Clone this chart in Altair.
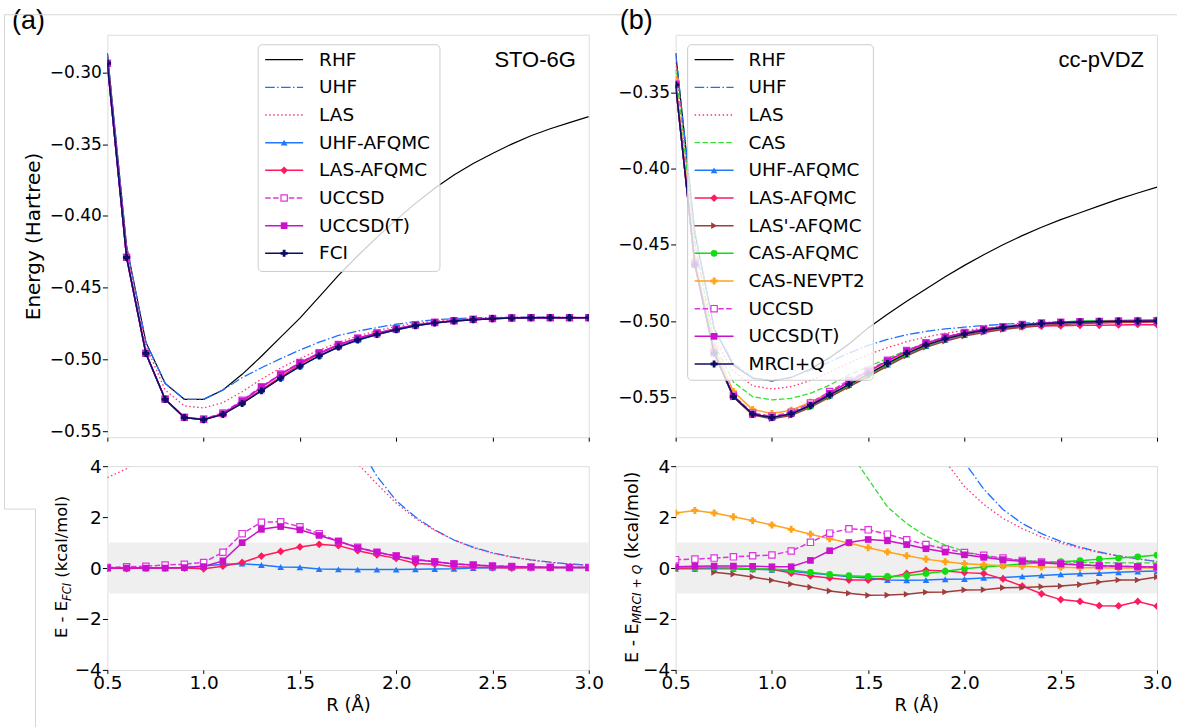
import altair as alt
import pandas as pd

R = [0.5, 0.6, 0.7, 0.8, 0.9, 1.0, 1.1, 1.2, 1.3, 1.4, 1.5, 1.6, 1.7,
     1.8, 1.9, 2.0, 2.1, 2.2, 2.3, 2.4, 2.5, 2.6, 2.7, 2.8, 2.9, 3.0]
X_TICKS = [0.5, 1.0, 1.5, 2.0, 2.5, 3.0]

# ---------------- (a) STO-6G : total energies (Hartree)
a_rhf = [-0.2866, -0.4213, -0.4880, -0.5167, -0.5278, -0.5278, -0.5213, -0.5104, -0.4978, -0.4845,
         -0.4712, -0.4565, -0.4415, -0.4278, -0.4150, -0.4028, -0.3913, -0.3808, -0.3715, -0.3635,
         -0.3565, -0.3500, -0.3442, -0.3393, -0.3350, -0.3309]
a_uhf = [-0.2866, -0.4213, -0.4880, -0.5167, -0.5278, -0.5278, -0.5213, -0.5127, -0.5058, -0.4995,
         -0.4935, -0.4880, -0.4833, -0.4803, -0.4778, -0.4755, -0.4737, -0.4724, -0.4716, -0.4711,
         -0.4708, -0.4706, -0.4706, -0.4706, -0.4707, -0.4707]
a_las = [-0.2880, -0.4228, -0.4903, -0.5213, -0.5324, -0.5338, -0.5301, -0.5225, -0.5137, -0.5060,
         -0.4993, -0.4935, -0.4883, -0.4838, -0.4800, -0.4770, -0.4748, -0.4733, -0.4723, -0.4716,
         -0.4711, -0.4708, -0.4707, -0.4706, -0.4706, -0.4707]
a_uhf_afqmc = [-0.2937, -0.4290, -0.4958, -0.5278, -0.5405, -0.5419, -0.5381, -0.5304, -0.5217, -0.5130,
               -0.5048, -0.4976, -0.4914, -0.4866, -0.4827, -0.4795, -0.4766, -0.4747, -0.4733, -0.4723,
               -0.4716, -0.4712, -0.4710, -0.4709, -0.4709, -0.4709]
a_las_afqmc = [-0.2937, -0.4290, -0.4958, -0.5278, -0.5405, -0.5420, -0.5382, -0.5303, -0.5212, -0.5121,
               -0.5035, -0.4961, -0.4900, -0.4854, -0.4818, -0.4788, -0.4762, -0.4744, -0.4732, -0.4723,
               -0.4716, -0.4712, -0.4710, -0.4709, -0.4709, -0.4709]
a_uccsd = [-0.2937, -0.4289, -0.4957, -0.5276, -0.5403, -0.5416, -0.5373, -0.5285, -0.5190, -0.5102,
           -0.5022, -0.4954, -0.4897, -0.4852, -0.4816, -0.4786, -0.4759, -0.4742, -0.4730, -0.4721,
           -0.4715, -0.4711, -0.4709, -0.4709, -0.4709, -0.4709]
a_uccsd_t = [-0.2937, -0.4290, -0.4958, -0.5278, -0.5405, -0.5419, -0.5379, -0.5291, -0.5195, -0.5105,
             -0.5024, -0.4956, -0.4897, -0.4852, -0.4816, -0.4787, -0.4760, -0.4742, -0.4730, -0.4721,
             -0.4715, -0.4711, -0.4709, -0.4709, -0.4709, -0.4709]
a_fci = [-0.2937, -0.4290, -0.4958, -0.5278, -0.5405, -0.5420, -0.5383, -0.5307, -0.5219, -0.5131,
         -0.5048, -0.4976, -0.4914, -0.4865, -0.4826, -0.4794, -0.4765, -0.4746, -0.4733, -0.4723,
         -0.4716, -0.4712, -0.4710, -0.4709, -0.4709, -0.4709]

# ---------------- (a) errors vs FCI (kcal/mol)
da_uhf = [4.4, 4.8, 4.9, 7.0, 8.3, 8.9, 10.4, 11.3, 10.1, 8.5, 7.1, 6.1, 5.5, 4.9, 3.6, 2.65,
          2.0, 1.5, 1.1, 0.82, 0.6, 0.44, 0.32, 0.23, 0.16, 0.11]
da_las = [3.55, 3.9, 5.5, 7.0, 7.8, 7.7, 7.8, 7.5, 7.0, 6.5, 5.9, 5.3, 4.7, 4.1, 3.3, 2.55,
          1.95, 1.48, 1.1, 0.8, 0.58, 0.43, 0.31, 0.22, 0.16, 0.12]
da_uhf_afqmc = [0.0, 0.0, 0.0, 0.0, 0.02, 0.08, 0.15, 0.17, 0.12, 0.04, 0.03, -0.04, -0.05,
                -0.06, -0.06, -0.06, -0.05, -0.04, -0.03, 0.0, 0.01, 0.02, 0.02, 0.02, 0.02, 0.02]
da_las_afqmc = [0.0, -0.02, 0.0, 0.0, 0.0, -0.03, 0.07, 0.22, 0.47, 0.65, 0.83, 0.93, 0.88,
                0.68, 0.52, 0.38, 0.18, 0.15, 0.05, 0.03, 0.02, 0.0, 0.01, 0.01, 0.02, 0.02]
da_uccsd = [0.02, 0.05, 0.07, 0.12, 0.15, 0.22, 0.62, 1.35, 1.8, 1.82, 1.62, 1.35, 1.05,
            0.82, 0.62, 0.48, 0.35, 0.25, 0.17, 0.12, 0.08, 0.06, 0.04, 0.03, 0.02, 0.02]
da_uccsd_t = [0.0, 0.0, 0.0, 0.0, 0.02, 0.06, 0.28, 1.0, 1.52, 1.63, 1.5, 1.28, 1.05,
              0.8, 0.62, 0.46, 0.33, 0.25, 0.16, 0.12, 0.08, 0.06, 0.04, 0.03, 0.02, 0.02]

# ---------------- (b) cc-pVDZ : total energies (Hartree)
b_rhf = [-0.3242, -0.4420, -0.5050, -0.5290, -0.5375, -0.5393, -0.5370, -0.5315, -0.5240, -0.5150,
         -0.5045, -0.4955, -0.4870, -0.4790, -0.4710, -0.4635, -0.4565, -0.4500, -0.4440, -0.4385,
         -0.4335, -0.4290, -0.4245, -0.4200, -0.4160, -0.4122]
b_uhf = [-0.3242, -0.4420, -0.5050, -0.5278, -0.5370, -0.5393, -0.5368, -0.5322, -0.5268, -0.5210,
         -0.5160, -0.5120, -0.5090, -0.5068, -0.5052, -0.5040, -0.5030, -0.5021, -0.5014, -0.5009,
         -0.5005, -0.5002, -0.5000, -0.4999, -0.4998, -0.4997]
b_las = [-0.3300, -0.4500, -0.5120, -0.5330, -0.5425, -0.5446, -0.5430, -0.5390, -0.5335, -0.5275,
         -0.5220, -0.5175, -0.5135, -0.5105, -0.5080, -0.5062, -0.5047, -0.5035, -0.5025, -0.5017,
         -0.5011, -0.5006, -0.5003, -0.5001, -0.5000, -0.4999]
b_cas = [-0.3350, -0.4480, -0.5150, -0.5400, -0.5496, -0.5517, -0.5507, -0.5474, -0.5420, -0.5354,
         -0.5300, -0.5245, -0.5191, -0.5145, -0.5105, -0.5075, -0.5053, -0.5037, -0.5023, -0.5013,
         -0.5007, -0.5003, -0.5001, -0.4999, -0.4998, -0.4997]
b_uhf_afqmc = [-0.3450, -0.4630, -0.5210, -0.5495, -0.5612, -0.5634, -0.5611, -0.5557, -0.5489, -0.5420,
               -0.5354, -0.5285, -0.5220, -0.5164, -0.5124, -0.5092, -0.5067, -0.5049, -0.5033, -0.5022,
               -0.5015, -0.5011, -0.5007, -0.5005, -0.5003, -0.5002]
b_las_afqmc = [-0.3450, -0.4630, -0.5210, -0.5495, -0.5611, -0.5634, -0.5612, -0.5559, -0.5491, -0.5422,
               -0.5355, -0.5284, -0.5215, -0.5158, -0.5119, -0.5088, -0.5064, -0.5050, -0.5039, -0.5033,
               -0.5031, -0.5028, -0.5028, -0.5026, -0.5022, -0.5024]
b_lasp_afqmc = [None, None, -0.5213, -0.5499, -0.5617, -0.5641, -0.5619, -0.5566, -0.5499, -0.5431,
                -0.5365, -0.5295, -0.5228, -0.5172, -0.5132, -0.5099, -0.5075, -0.5055, -0.5040, -0.5029,
                -0.5022, -0.5017, -0.5013, -0.5009, -0.5008, -0.5006]
b_cas_afqmc = [-0.3450, -0.4630, -0.5210, -0.5495, -0.5611, -0.5634, -0.5610, -0.5557, -0.5489, -0.5420,
               -0.5353, -0.5283, -0.5217, -0.5160, -0.5119, -0.5085, -0.5060, -0.5041, -0.5025, -0.5014,
               -0.5007, -0.5002, -0.4998, -0.4996, -0.4994, -0.4992]
b_nevpt2 = [-0.3416, -0.4594, -0.5176, -0.5463, -0.5581, -0.5606, -0.5585, -0.5533, -0.5467, -0.5399,
            -0.5335, -0.5268, -0.5204, -0.5151, -0.5113, -0.5082, -0.5059, -0.5042, -0.5027, -0.5016,
            -0.5011, -0.5007, -0.5004, -0.5002, -0.5001, -0.5000]
b_uccsd = [-0.3445, -0.4624, -0.5204, -0.5488, -0.5603, -0.5625, -0.5598, -0.5538, -0.5463, -0.5390,
           -0.5324, -0.5257, -0.5194, -0.5142, -0.5105, -0.5075, -0.5053, -0.5037, -0.5023, -0.5013,
           -0.5008, -0.5005, -0.5003, -0.5001, -0.5000, -0.4999]
b_uccsd_t = [-0.3449, -0.4629, -0.5209, -0.5494, -0.5610, -0.5632, -0.5608, -0.5549, -0.5474, -0.5399,
             -0.5330, -0.5261, -0.5197, -0.5145, -0.5107, -0.5077, -0.5054, -0.5038, -0.5024, -0.5014,
             -0.5008, -0.5005, -0.5003, -0.5001, -0.5000, -0.4999]
b_mrci = [-0.3450, -0.4630, -0.5210, -0.5495, -0.5611, -0.5633, -0.5609, -0.5554, -0.5485, -0.5415,
          -0.5348, -0.5278, -0.5212, -0.5157, -0.5117, -0.5085, -0.5061, -0.5043, -0.5028, -0.5017,
          -0.5011, -0.5007, -0.5004, -0.5002, -0.5001, -0.5000]

# ---------------- (b) errors vs MRCI+Q (kcal/mol)
db_uhf = [13.0, 12.0, 11.0, 13.6, 14.9, 15.2, 15.2, 14.6, 14.1, 13.2, 11.9, 10.4, 8.8, 6.2, 5.0,
          4.15, 3.1, 2.3, 1.75, 1.35, 1.05, 0.82, 0.63, 0.48, 0.36, 0.26]
db_las = [9.0, 8.5, 8.0, 10.0, 11.5, 11.6, 11.2, 10.4, 9.4, 8.5, 7.5, 6.6, 5.8, 5.0, 4.2, 3.2,
          2.5, 1.95, 1.55, 1.22, 0.98, 0.78, 0.61, 0.47, 0.35, 0.26]
db_cas = [8.0, 8.0, 8.0, 7.5, 7.2, 7.3, 6.9, 6.2, 5.4, 4.6, 3.5, 2.4, 1.75, 1.25, 0.9, 0.65,
          0.48, 0.37, 0.3, 0.26, 0.24, 0.22, 0.21, 0.2, 0.2, 0.2]
db_uhf_afqmc = [-0.03, -0.03, -0.03, -0.03, -0.05, -0.07, -0.13, -0.20, -0.26, -0.34, -0.39, -0.47, -0.48,
                -0.47, -0.44, -0.43, -0.39, -0.37, -0.33, -0.29, -0.25, -0.22, -0.20, -0.17, -0.14, -0.12]
db_las_afqmc = [0.0, -0.01, 0.03, -0.01, -0.04, -0.05, -0.20, -0.31, -0.39, -0.47, -0.47, -0.39, -0.21,
                -0.09, -0.12, -0.18, -0.21, -0.43, -0.71, -1.01, -1.24, -1.31, -1.48, -1.49, -1.31, -1.50]
db_lasp_afqmc = [None, None, -0.17, -0.24, -0.35, -0.48, -0.63, -0.75, -0.90, -0.99, -1.07, -1.06, -1.03,
                 -0.95, -0.94, -0.86, -0.85, -0.77, -0.76, -0.73, -0.71, -0.65, -0.55, -0.47, -0.47, -0.35]
db_cas_afqmc = [0.03, 0.02, 0.02, 0.0, -0.03, -0.04, -0.09, -0.17, -0.25, -0.30, -0.33, -0.33, -0.30,
                -0.21, -0.13, -0.03, 0.04, 0.10, 0.16, 0.21, 0.25, 0.29, 0.35, 0.39, 0.44, 0.51]
db_nevpt2 = [2.16, 2.26, 2.16, 2.01, 1.86, 1.69, 1.52, 1.33, 1.15, 0.98, 0.80, 0.63, 0.48,
             0.35, 0.25, 0.17, 0.13, 0.09, 0.07, 0.04, 0.03, 0.01, 0.01, 0.0, 0.0, 0.0]
db_uccsd = [0.33, 0.35, 0.39, 0.44, 0.48, 0.51, 0.67, 1.01, 1.37, 1.54, 1.50, 1.33, 1.11,
            0.92, 0.75, 0.61, 0.50, 0.39, 0.30, 0.24, 0.18, 0.13, 0.09, 0.07, 0.05, 0.04]
db_uccsd_t = [0.05, 0.07, 0.08, 0.08, 0.07, 0.05, 0.05, 0.30, 0.68, 1.00, 1.12, 1.07, 0.92,
              0.76, 0.63, 0.52, 0.42, 0.33, 0.26, 0.21, 0.16, 0.12, 0.09, 0.07, 0.05, 0.04]

A_TOP = [("RHF", a_rhf), ("UHF", a_uhf), ("LAS", a_las), ("UHF-AFQMC", a_uhf_afqmc),
         ("LAS-AFQMC", a_las_afqmc), ("UCCSD", a_uccsd), ("UCCSD(T)", a_uccsd_t), ("FCI", a_fci)]
A_BOT = [("UHF", da_uhf), ("LAS", da_las), ("UHF-AFQMC", da_uhf_afqmc), ("LAS-AFQMC", da_las_afqmc),
         ("UCCSD", da_uccsd), ("UCCSD(T)", da_uccsd_t)]
B_TOP = [("RHF", b_rhf), ("UHF", b_uhf), ("LAS", b_las), ("CAS", b_cas), ("UHF-AFQMC", b_uhf_afqmc),
         ("LAS-AFQMC", b_las_afqmc), ("LAS'-AFQMC", b_lasp_afqmc), ("CAS-AFQMC", b_cas_afqmc),
         ("CAS-NEVPT2", b_nevpt2), ("UCCSD", b_uccsd), ("UCCSD(T)", b_uccsd_t), ("MRCI+Q", b_mrci)]
B_BOT = [("UHF", db_uhf), ("LAS", db_las), ("CAS", db_cas), ("UHF-AFQMC", db_uhf_afqmc),
         ("LAS-AFQMC", db_las_afqmc), ("LAS'-AFQMC", db_lasp_afqmc), ("CAS-AFQMC", db_cas_afqmc),
         ("CAS-NEVPT2", db_nevpt2), ("UCCSD", db_uccsd), ("UCCSD(T)", db_uccsd_t)]

STYLE = {
    "RHF":        dict(color="#000000", lw=1.2, dash=None, shape=None),
    "UHF":        dict(color="#1f6fff", lw=1.3, dash=[9.6, 2.4, 1.5, 2.4], shape=None),
    "LAS":        dict(color="#ff3377", lw=1.3, dash=[1.5, 2.5], shape=None),
    "CAS":        dict(color="#33dd33", lw=1.3, dash=[5.5, 2.4], shape=None),
    "UHF-AFQMC":  dict(color="#1f78ff", lw=1.5, dash=None, shape="triangle-up", size=45),
    "LAS-AFQMC":  dict(color="#ff1a5f", lw=1.5, dash=None, shape="diamond", size=60),
    "LAS'-AFQMC": dict(color="#a03c3c", lw=1.5, dash=None, shape="triangle-right", size=45),
    "CAS-AFQMC":  dict(color="#11dd11", lw=1.5, dash=None, shape="circle", size=45),
    "CAS-NEVPT2": dict(color="#ffa31a", lw=1.5, dash=None, shape="cross", size=50),
    "UCCSD":      dict(color="#e033e0", lw=1.5, dash=[5.5, 2.4], shape="square", size=40, open=True),
    "UCCSD(T)":   dict(color="#cc11cc", lw=1.5, dash=None, shape="square", size=45),
    "FCI":        dict(color="#0d0d66", lw=1.5, dash=None, shape="cross", size=50),
    "MRCI+Q":     dict(color="#0d0d66", lw=1.5, dash=None, shape="cross", size=50),
}

W = 482
H_TOP = 403
H_BOT = 204
FONT = "DejaVu Sans"
SANS = "Liberation Sans"


def marker_kw(st):
    if st.get("open"):
        return dict(shape=st["shape"], size=st["size"], filled=True, fill="white",
                    stroke=st["color"], strokeWidth=1.2, opacity=1)
    return dict(shape=st["shape"], size=st["size"], filled=True, color=st["color"], opacity=1)


def series_layers(items, xs, ys, xaxis, yaxis):
    out = []
    for name, vals in items:
        st = STYLE[name]
        df = pd.DataFrame({"R": R, "E": vals}).dropna()
        kw = dict(color=st["color"], strokeWidth=st["lw"], clip=True)
        if st["dash"]:
            kw["strokeDash"] = st["dash"]
        enc = dict(x=alt.X("R:Q", scale=xs, axis=xaxis), y=alt.Y("E:Q", scale=ys, axis=yaxis))
        out.append(alt.Chart(df).mark_line(**kw).encode(**enc))
        if st["shape"]:
            mk = marker_kw(st)
            mk["clip"] = True
            out.append(alt.Chart(df).mark_point(**mk).encode(**enc))
    return out


def legend_layers(names, box, y0, dy, hx0, hx1, tx):
    n = len(names)
    lsc = alt.Scale(domain=[0, n - 1], range=[y0, y0 + dy * (n - 1)], nice=False, zero=False)
    one = pd.DataFrame({"k": [0]})
    layers = [alt.Chart(one).mark_rect(fill="white", fillOpacity=0.8, stroke="#cccccc", strokeWidth=1,
                                       cornerRadius=4).encode(
        x=alt.value(box[0]), x2=alt.value(box[1]), y=alt.value(box[2]), y2=alt.value(box[3]))]
    for k, nm in enumerate(names):
        st = STYLE[nm]
        d = pd.DataFrame({"i": [k]})
        kw = dict(color=st["color"], strokeWidth=st["lw"])
        if st["dash"]:
            kw["strokeDash"] = st["dash"]
        layers.append(alt.Chart(d).mark_rule(**kw).encode(
            x=alt.value(hx0), x2=alt.value(hx1), y=alt.Y("i:Q", scale=lsc, axis=None)))
        if st["shape"]:
            layers.append(alt.Chart(d).mark_point(**marker_kw(st)).encode(
                x=alt.value((hx0 + hx1) / 2), y=alt.Y("i:Q", scale=lsc, axis=None)))
    tdf = pd.DataFrame({"i": list(range(n)), "name": names})
    layers.append(alt.Chart(tdf).mark_text(align="left", baseline="middle", fontSize=18.5, font=FONT,
                                           color="black").encode(
        x=alt.value(tx), y=alt.Y("i:Q", scale=lsc, axis=None), text="name:N"))
    return layers


def label(text, x, y, size, font=FONT, align="left", angle=0, italic=False, color="black"):
    kw = dict(align=align, baseline="alphabetic", fontSize=size, font=font, color=color)
    if angle:
        kw["angle"] = angle
    if italic:
        kw["fontStyle"] = "italic"
    return alt.Chart(pd.DataFrame({"t": [text]})).mark_text(**kw).encode(
        x=alt.value(x), y=alt.value(y), text="t:N")


def hline(x0, x1, y):
    return alt.Chart(pd.DataFrame({"k": [0]})).mark_rule(color="#d6d6d6", strokeWidth=1).encode(
        x=alt.value(x0), x2=alt.value(x1), y=alt.value(y))


def vline(x, y0, y1):
    return alt.Chart(pd.DataFrame({"k": [0]})).mark_rule(color="#d6d6d6", strokeWidth=1).encode(
        x=alt.value(x), y=alt.value(y0), y2=alt.value(y1))


xs = alt.Scale(domain=[0.5, 3.0], nice=False, zero=False)
x_top_axis = alt.Axis(values=X_TICKS, labels=False, ticks=True, tickSize=4, domain=False, grid=False,
                      title=None, tickColor="black")
x_bot_axis = alt.Axis(values=X_TICKS, format=".1f", labelFontSize=18.5, labelFont=FONT, labelColor="black",
                      labelFlush=False, labelOverlap=False, tickSize=3.5, labelPadding=0, domain=False,
                      grid=False, tickColor="black", title="R (Å)", titleFontSize=18, titleFont=FONT,
                      titleFontWeight="normal", titleColor="black", titleY=41, titleBaseline="alphabetic")


def y_axis(values, fmt, size, title=None, **extra):
    kw = dict(values=values, format=fmt, labelFontSize=size, labelFont=FONT, labelColor="black",
              labelFlush=False, labelOverlap=False, tickSize=5, labelPadding=1, domain=False, grid=False,
              tickColor="black")
    if title:
        kw.update(title=title, titleFontSize=20, titleFont=FONT, titleFontWeight="normal",
                  titleColor="black", titleAngle=270, titleAlign="center", titleBaseline="bottom", **extra)
    else:
        kw["title"] = None
    return alt.Axis(**kw)


# ---------------- top (a)
ys_a = alt.Scale(domain=[-0.5542, -0.2738], nice=False, zero=False)
ya_axis = y_axis([-0.55, -0.5, -0.45, -0.4, -0.35, -0.3], ".2f", 17,
                 title="Energy (Hartree)", titleX=-64, titleY=201.5)
top_a = alt.layer(
    alt.layer(*series_layers(A_TOP, xs, ys_a, x_top_axis, ya_axis)),
    alt.layer(*legend_layers([n for n, _ in A_TOP], (151, 333, 10, 237), 25, 27.7, 158, 196, 212),
              label("(a)", -95.5, -5.7, 27, font=SANS),
              label("STO-6G", 469, 32, 22, font=SANS, align="right"),
              hline(-103, 1071, -20), vline(-103, -20, 475)),
).resolve_scale(y="independent").properties(width=W, height=H_TOP)

# ---------------- top (b)
ys_b = alt.Scale(domain=[-0.5762, -0.3122], nice=False, zero=False)
yb_axis = y_axis([-0.55, -0.5, -0.45, -0.4, -0.35], ".2f", 17)
top_b = alt.layer(
    alt.layer(*series_layers(B_TOP, xs, ys_b, x_top_axis, yb_axis)),
    alt.layer(*legend_layers([n for n, _ in B_TOP], (12, 198, 10, 346), 25, 27.7, 19, 58, 73),
              label("(b)", -56, -5.7, 27, font=SANS),
              label("cc-pVDZ", 469, 32, 22, font=SANS, align="right")),
).resolve_scale(y="independent").properties(width=W, height=H_TOP)

# ---------------- bottom panels
ys_d = alt.Scale(domain=[-4, 4], nice=False, zero=False)
band = pd.DataFrame({"lo": [-1.0], "hi": [1.0]})
ybot = y_axis([-4, -2, 0, 2, 4], "d", 18.5)


def band_layer():
    return alt.Chart(band).mark_rect(color="#efefef").encode(
        x=alt.value(0), x2=alt.value(W), y=alt.Y("lo:Q", scale=ys_d, axis=ybot), y2="hi:Q")


bot_a = alt.layer(
    band_layer(),
    *series_layers(A_BOT, xs, ys_d, x_bot_axis, ybot),
    label("E - E", -40.3, 172, 16.4, angle=270),
    label("FCI", -36.7, 134.9, 11.5, angle=270, italic=True),
    label("(kcal/mol)", -40.3, 111.7, 16.4, angle=270),
    hline(-103, -72, 43), vline(-72, 43, 262),
).properties(width=W, height=H_BOT)

bot_b = alt.layer(
    band_layer(),
    *series_layers(B_BOT, xs, ys_d, x_bot_axis, ybot),
    label("E - E", -38, 197, 17.5, angle=270),
    label("MRCI + Q", -34.2, 157.5, 12.25, angle=270, italic=True),
    label("(kcal/mol)", -38, 93.0, 17.5, angle=270),
).properties(width=W, height=H_BOT)

chart = alt.concat(top_a, top_b, bot_a, bot_b, columns=2, spacing={"row": 29, "column": 87},
                   bounds="flush", align="each").properties(
    padding={"left": 3.5, "top": 5.3, "right": 0, "bottom": 0}
).configure_view(stroke="#404040", strokeWidth=1).configure(background="white")

chart.save("out.html", embed_options={"renderer": "svg", "actions": False})
